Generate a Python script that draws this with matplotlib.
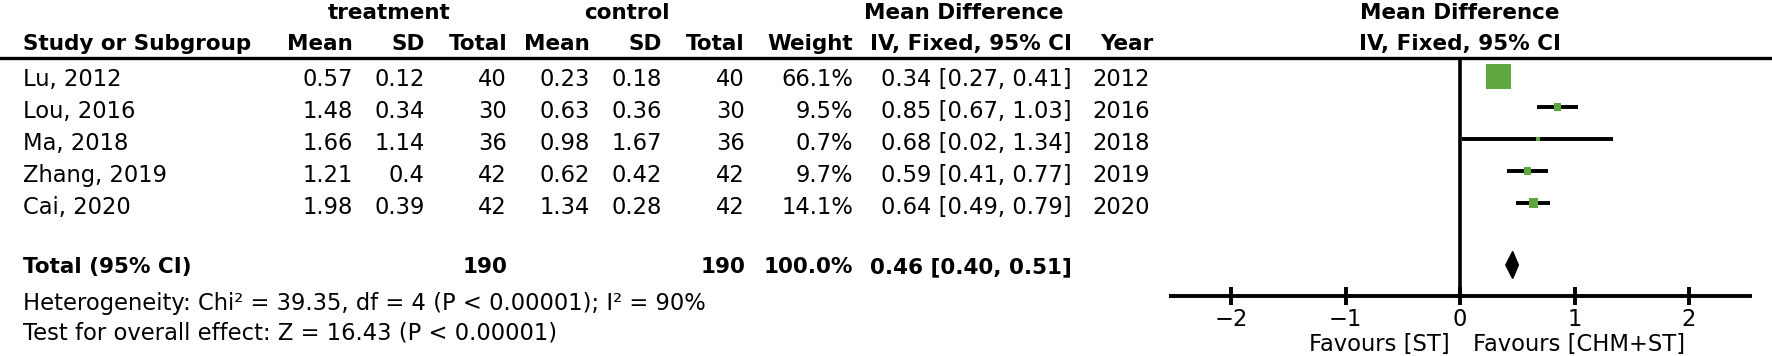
import matplotlib
matplotlib.use('Agg')
import matplotlib.pyplot as plt
from matplotlib.lines import Line2D
from matplotlib.patches import Rectangle, Polygon

# data
studies = ['Lu, 2012', 'Lou, 2016', 'Ma, 2018', 'Zhang, 2019', 'Cai, 2020']
t_mean = ['0.57', '1.48', '1.66', '1.21', '1.98']
t_sd = ['0.12', '0.34', '1.14', '0.4', '0.39']
t_total = [40, 30, 36, 42, 42]
c_mean = ['0.23', '0.63', '0.98', '0.62', '1.34']
c_sd = ['0.18', '0.36', '1.67', '0.42', '0.28']
c_total = [40, 30, 36, 42, 42]
weight = [66.1, 9.5, 0.7, 9.7, 14.1]
md = [0.34, 0.85, 0.68, 0.59, 0.64]
ci_lo = [0.27, 0.67, 0.02, 0.41, 0.49]
ci_hi = [0.41, 1.03, 1.34, 0.77, 0.79]
years = [2012, 2016, 2018, 2019, 2020]

total_weight = 100.0
total_md, total_lo, total_hi = 0.46, 0.40, 0.51
xticks = [-2, -1, 0, 1, 2]
xtick_labels = ['−2', '−1', '0', '1', '2']
het_text = 'Heterogeneity: Chi² = 39.35, df = 4 (P < 0.00001); I² = 90%'
eff_text = 'Test for overall effect: Z = 16.43 (P < 0.00001)'

W, H = 1772, 356
GREEN = '#5ea83f'
FS = 16.3
FSB = 15.5

plt.rcParams['font.family'] = ['DejaVu Sans']
fig = plt.figure(figsize=(W / 100, H / 100), dpi=100)


def fx(x):
    return x / W


def fy(y):
    return 1 - y / H


def txt(x, y, s, ha='right', bold=False):
    fig.text(fx(x), fy(y), s, ha=ha, va='baseline',
             fontsize=FSB if bold else FS,
             fontweight='bold' if bold else 'normal')


# header rows
txt(389, 19, 'treatment', ha='center', bold=True)
txt(627, 19, 'control', ha='center', bold=True)
txt(964, 19, 'Mean Difference', ha='center', bold=True)
txt(1460, 19, 'Mean Difference', ha='center', bold=True)

cols = [353, 425, 507, 590, 662, 745, 853, 1072, 1153]
heads = ['Mean', 'SD', 'Total', 'Mean', 'SD', 'Total', 'Weight',
         'IV, Fixed, 95% CI', 'Year']
txt(23, 50, 'Study or Subgroup', ha='left', bold=True)
for x, h in zip(cols, heads):
    txt(x, 50, h, bold=True)
txt(1460, 50, 'IV, Fixed, 95% CI', ha='center', bold=True)

fig.add_artist(Line2D([0, 1], [fy(58), fy(58)], color='black', lw=2.4,
                      transform=fig.transFigure))

row_base = [86, 118, 150, 182, 214]
for i, yb in enumerate(row_base):
    vals = [t_mean[i], t_sd[i], str(t_total[i]), c_mean[i], c_sd[i],
            str(c_total[i]), f'{weight[i]:.1f}%',
            f'{md[i]:.2f} [{ci_lo[i]:.2f}, {ci_hi[i]:.2f}]', str(years[i])]
    txt(23, yb, studies[i], ha='left')
    for x, v in zip(cols, vals):
        txt(x - 3 if x == 1153 else x, yb, v)

txt(23, 273, 'Total (95% CI)', ha='left', bold=True)
txt(507, 273, str(sum(t_total)), bold=True)
txt(745, 273, str(sum(c_total)), bold=True)
txt(853, 273, f'{total_weight:.1f}%', bold=True)
txt(1072, 273, f'{total_md:.2f} [{total_lo:.2f}, {total_hi:.2f}]', bold=True)
txt(23, 310, het_text, ha='left')
txt(23, 340, eff_text, ha='left')

# forest panel: x in MD units, y in pixel rows
unit = 114.5
x0 = 1460
xmin, xmax = -2.52, 2.53
ax = fig.add_axes([fx(x0 + xmin * unit), fy(296), (xmax - xmin) * unit / W,
                   (296 - 58) / H])
ax.set_xlim(xmin, xmax)
ax.set_ylim(296, 58)
ax.patch.set_alpha(0)
for s in ['top', 'left', 'right']:
    ax.spines[s].set_visible(False)
ax.spines['bottom'].set_linewidth(2.8)
ax.set_yticks([])
ax.set_xticks(xticks)
ax.set_xticklabels(xtick_labels)
ax.tick_params(axis='x', direction='inout', length=13, width=2.8,
               labelsize=FS, pad=2)
ax.axvline(0, color='black', lw=2.6)

row_mid = [76, 107, 139, 171, 203]
for i, yc in enumerate(row_mid):
    ax.plot([ci_lo[i], ci_hi[i]], [yc, yc], color='black', lw=2.8,
            solid_capstyle='butt', zorder=3)
    side = max(4.5, 25 * (weight[i] / max(weight)) ** 0.65)
    ax.add_patch(Rectangle((md[i] - side / 2 / unit, yc - side / 2),
                           side / unit, side, color=GREEN, lw=0, zorder=4))

yd = 265
ax.add_patch(Polygon([(total_lo, yd), (total_md, yd - 13.5), (total_hi, yd),
                      (total_md, yd + 13.5)], closed=True, color='black',
                     zorder=4))

fig.text(fx(1450), fy(351), 'Favours [ST]', ha='right', va='baseline',
         fontsize=FS)
fig.text(fx(1473), fy(351), 'Favours [CHM+ST]', ha='left', va='baseline',
         fontsize=FS)

fig.savefig('out.png', dpi=100)
